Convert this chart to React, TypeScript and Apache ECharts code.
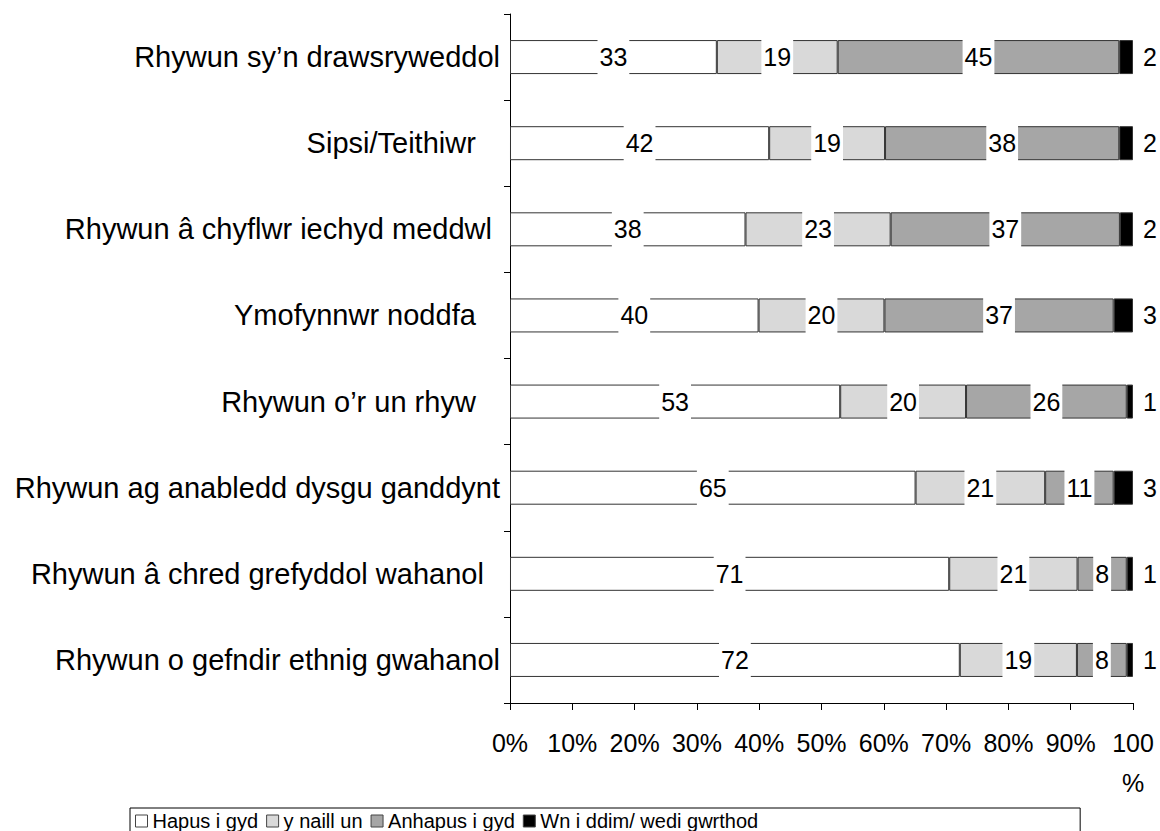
import React, { useEffect, useRef } from "react";
import * as echarts from "echarts";

const categories = [
  "Rhywun sy’n drawsryweddol",
  "Sipsi/Teithiwr   ",
  "Rhywun â chyflwr iechyd meddwl ",
  "Ymofynnwr noddfa   ",
  "Rhywun o’r un rhyw   ",
  "Rhywun ag anabledd dysgu ganddynt",
  "Rhywun â chred grefyddol wahanol  ",
  "Rhywun o gefndir ethnig gwahanol",
];

const seriesNames = ["Hapus i gyd", "y naill un", "Anhapus i gyd", "Wn i ddim/ wedi gwrthod"];

const happy = [33.2, 41.6, 37.8, 39.9, 53.0, 65.1, 70.5, 72.2];
const neither = [19.4, 18.6, 23.3, 20.2, 20.2, 20.8, 20.6, 18.8];
const unhappy = [45.2, 37.6, 36.8, 36.8, 25.8, 11.0, 7.9, 8.0];
const dontKnow = [2.2, 2.2, 2.1, 3.1, 1.0, 3.1, 1.0, 1.0];

const xTicks = [0, 10, 20, 30, 40, 50, 60, 70, 80, 90, 100];

const colors = ["#ffffff", "#d9d9d9", "#a6a6a6", "#000000"];

export default function App() {
  const ref = useRef<HTMLDivElement>(null);
  useEffect(() => {
    if (!ref.current) return;
    const chart = echarts.init(ref.current, null, { renderer: "svg" });
    const font = "'Liberation Sans', Arial, sans-serif";
    const values = [happy, neither, unhappy, dontKnow];
    const series = values.map((arr, i) => ({
      name: seriesNames[i],
      type: "bar",
      stack: "total",
      barWidth: 34,
      data: arr,
      itemStyle: { color: colors[i], borderColor: "#333", borderWidth: 1 },
      label:
        i < 3
          ? {
              show: true,
              position: "inside",
              color: "#000",
              fontSize: 25,
              fontFamily: font,
              backgroundColor: "#fff",
              padding: [6, 2, 6, 2],
              formatter: (p: any) => String(Math.round(p.value)),
            }
          : {
              show: true,
              position: "right",
              distance: 10,
              color: "#000",
              fontSize: 25,
              fontFamily: font,
              formatter: (p: any) => String(Math.round(p.value)),
            },
    }));
    chart.setOption({
      animation: false,
      textStyle: { fontFamily: font },
      grid: { left: 510, right: 27, top: 14, bottom: 128, containLabel: false },
      legend: {
        left: 130,
        top: 808,
        orient: "horizontal",
        data: seriesNames,
        itemWidth: 12,
        itemHeight: 12,
        itemGap: 8,
        icon: "rect",
        borderColor: "#000",
        borderWidth: 1,
        borderRadius: 0,
        padding: [3, 322, 20, 5],
        textStyle: { fontSize: 20, color: "#000", fontFamily: font },
        itemStyle: { borderColor: "#444", borderWidth: 1 },
      },
      xAxis: {
        type: "value",
        min: 0,
        max: 100,
        interval: 10,
        axisLine: { show: true, lineStyle: { color: "#000", width: 1 } },
        axisTick: { show: true, length: 7, lineStyle: { color: "#000" } },
        splitLine: { show: false },
        axisLabel: {
          fontSize: 25,
          color: "#000",
          fontFamily: font,
          margin: 20,
          formatter: (v: number) => (xTicks.includes(v) && v === 100 ? "100\n%" : v + "%"),
          lineHeight: 40,
          verticalAlign: "top",
        },
      },
      yAxis: {
        type: "category",
        inverse: true,
        data: categories,
        axisLine: { show: true, lineStyle: { color: "#000", width: 1 } },
        axisTick: { show: true, length: 6, lineStyle: { color: "#000" } },
        axisLabel: { fontSize: 29, color: "#000", fontFamily: font, margin: 10 },
      },
      series,
    });
    return () => chart.dispose();
  }, []);
  return (
    <div
      ref={ref}
      style={{ position: "fixed", left: 0, top: 0, width: 1160, height: 831, background: "#fff" }}
    />
  );
}
